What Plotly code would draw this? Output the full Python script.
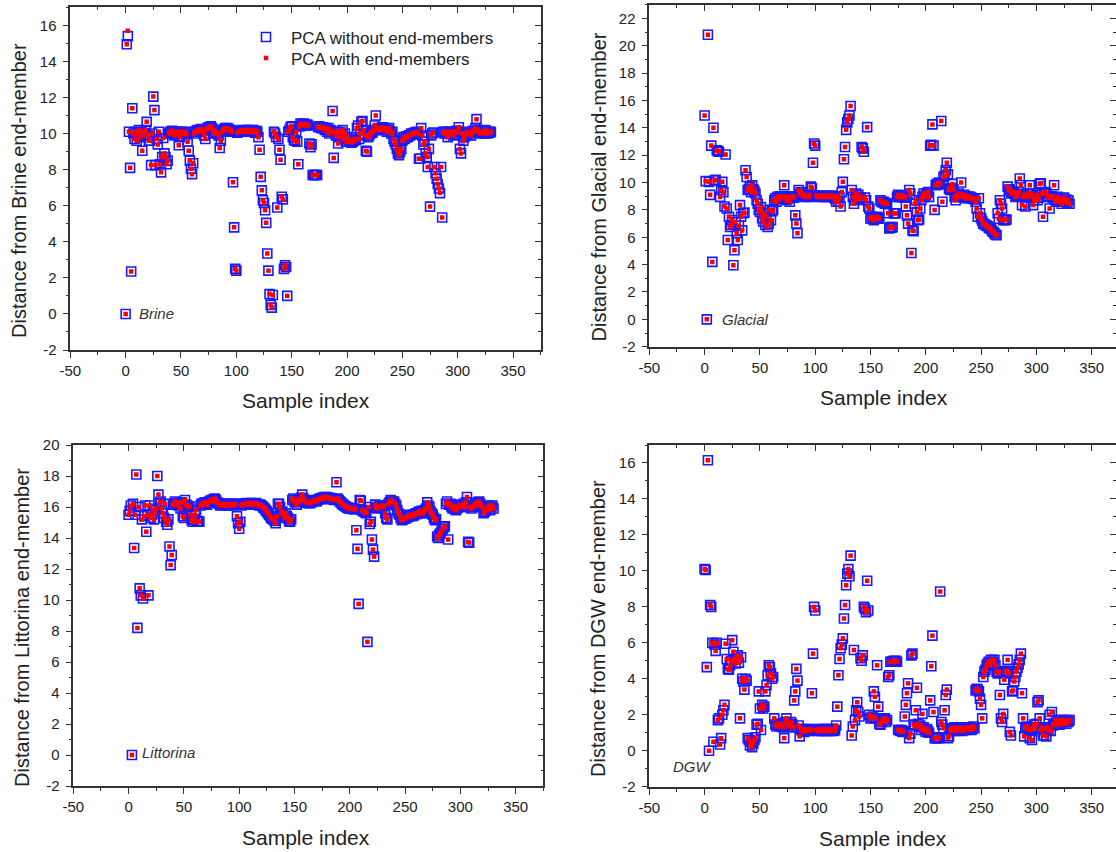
import plotly.graph_objects as go

# Distance of every sample (index 0..330) from each end-member, PCA without end-members
brine = [
    0.0, 14.95, 15.4, 10.1, 8.1, 2.35, 11.4, 10.0, 9.7, 10.1,
    9.6, 10.0, 10.2, 9.8, 10.1, 9.05, 9.9, 10.0, 10.2, 10.65,
    9.9, 9.6, 9.6, 8.25, 10.0, 12.05, 11.3, 8.25, 9.7, 9.4,
    10.1, 8.3, 7.85, 8.7, 9.75, 8.9, 8.7, 8.3, 8.5, 10.0,
    10.1, 10.0, 10.15, 10.05, 9.9, 10.1, 10.0, 10.1, 9.35, 9.8,
    10.0, 10.1, 10.05, 10.0, 10.1, 9.95, 9.55, 9.05, 8.5, 8.05,
    7.75, 8.35, 10.0, 10.1, 10.15, 10.2, 10.1, 10.2, 10.25, 10.15,
    10.2, 9.9, 9.7, 10.2, 10.3, 10.35, 10.3, 10.4, 10.3, 10.0,
    10.2, 10.1, 10.05, 10.0, 9.9, 9.2, 9.6, 10.1, 10.2, 10.25,
    10.3, 10.2, 10.3, 10.25, 10.15, 10.2, 10.1, 7.3, 4.8, 2.5,
    2.4, 10.05, 10.1, 10.15, 10.1, 10.2, 10.15, 10.1, 10.15, 10.2,
    10.1, 10.15, 10.2, 10.1, 10.15, 10.2, 10.1, 10.05, 10.15, 10.1,
    9.8, 9.1, 7.6, 6.85, 6.3, 6.15, 5.75, 5.05, 3.35, 2.4,
    1.1, 0.5, 0.35, 1.05, 10.1, 10.0, 9.8, 5.9, 9.7, 9.1,
    8.55, 6.5, 6.35, 2.5, 2.7, 2.6, 1.0, 10.1, 10.2, 10.35,
    10.4, 9.8, 9.65, 9.6, 10.1, 9.55, 8.3, 10.4, 10.55, 10.45,
    10.5, 10.55, 10.5, 10.45, 10.5, 10.45, 9.45, 9.25, 9.4, 7.7,
    7.7, 7.7, 7.7, 7.7, 10.35, 10.4, 10.35, 10.3, 10.35, 10.3,
    10.2, 10.3, 10.1, 10.3, 10.0, 10.2, 10.1, 11.25, 8.65, 10.1,
    9.9, 10.1, 9.45, 9.8, 10.1, 9.9, 10.2, 9.7, 10.0, 9.55,
    9.8, 9.7, 9.55, 9.6, 9.5, 9.55, 9.6, 9.7, 9.65, 10.3,
    10.45, 9.7, 10.0, 10.65, 10.7, 10.2, 9.9, 9.05, 9.0, 9.8,
    9.9, 10.0, 10.1, 10.05, 10.2, 10.45, 11.0, 10.2, 10.3, 10.25,
    10.2, 10.3, 10.35, 10.2, 10.3, 10.25, 10.1, 10.2, 10.3, 10.1,
    10.0, 10.1, 9.7, 9.55, 9.4, 9.15, 8.9, 8.8, 9.0, 9.15,
    9.6, 9.8, 9.7, 9.8, 9.85, 9.8, 9.9, 9.9, 10.0, 9.95,
    10.0, 10.05, 10.0, 10.1, 10.0, 8.6, 8.6, 10.3, 9.9, 9.4,
    9.55, 8.9, 8.7, 8.15, 9.15, 5.95, 9.9, 10.0, 10.05, 8.15,
    7.8, 7.5, 7.2, 6.95, 6.7, 8.15, 5.35, 10.1, 10.0, 10.1,
    10.0, 9.8, 10.1, 10.0, 10.05, 10.1, 9.9, 10.0, 10.1, 10.15,
    10.1, 10.35, 9.15, 8.9, 10.0, 9.6, 9.8, 9.9, 10.0, 10.1,
    10.0, 10.05, 9.9, 10.1, 10.15, 10.1, 10.3, 10.8, 10.2, 10.1,
    10.0, 10.1, 10.05, 10.1, 10.0, 10.2, 10.1, 10.0, 10.1, 10.05, 10.1,
]

glacial = [
    14.9, 10.1, 0.0, 20.8, 10.05, 9.1, 12.7, 4.2, 14.0, 10.15,
    10.2, 12.35, 12.3, 12.25, 8.95, 9.45, 10.05, 9.3, 8.25, 12.05,
    8.1, 5.8, 7.5, 6.75, 6.9, 7.25, 3.95, 5.05, 7.1, 6.3,
    5.8, 6.85, 8.35, 7.5, 6.5, 7.75, 7.8, 10.9, 10.4, 9.45,
    9.55, 9.7, 9.3, 9.8, 9.5, 9.4, 9.2, 8.7, 8.45, 8.0,
    7.85, 8.2, 7.4, 7.15, 7.75, 6.9, 7.5, 6.75, 7.0, 8.0,
    7.25, 7.9, 8.0, 8.7, 8.85, 8.6, 8.95, 8.8, 9.0, 8.9,
    8.95, 9.0, 9.8, 8.95, 8.7, 8.8, 8.95, 8.6, 8.9, 8.95,
    9.0, 8.9, 7.6, 7.0, 6.3, 9.45, 9.2, 9.3, 9.1, 9.0,
    9.1, 8.95, 9.05, 9.0, 8.95, 9.1, 9.7, 9.6, 11.45, 12.85,
    12.7, 9.05, 9.0, 8.95, 9.0, 9.05, 9.0, 8.95, 9.0, 9.0,
    8.95, 9.05, 9.0, 8.95, 9.0, 9.05, 8.95, 9.0, 8.8, 8.6,
    9.0, 8.6, 8.9, 8.25, 9.3, 10.05, 11.7, 12.6, 13.85, 14.4,
    14.65, 14.9, 15.6, 9.45, 8.95, 8.45, 8.7, 9.2, 8.95, 9.1,
    8.8, 8.9, 12.6, 12.5, 12.25, 8.9, 8.7, 14.05, 8.25, 8.1,
    7.35, 7.5, 7.45, 7.25, 7.35, 7.4, 7.5, 7.35, 7.4, 8.7,
    8.6, 8.55, 8.6, 8.45, 8.5, 8.45, 7.75, 6.65, 6.75, 6.7,
    6.75, 7.75, 7.75, 7.75, 8.95, 9.1, 8.95, 9.0, 8.95, 9.05,
    8.95, 8.9, 8.25, 7.6, 7.0, 9.45, 9.2, 4.85, 6.5, 6.45,
    8.45, 8.7, 7.85, 7.25, 7.3, 8.1, 8.7, 8.95, 9.2, 8.95,
    9.1, 9.2, 9.3, 8.95, 12.7, 12.75, 14.25, 12.7, 8.0, 9.8,
    9.9, 9.85, 10.0, 9.9, 14.5, 8.6, 10.4, 10.5, 10.9, 11.45,
    10.6, 9.55, 9.45, 9.6, 9.9, 9.5, 8.95, 8.7, 9.1, 8.95,
    9.2, 9.0, 10.0, 9.0, 8.95, 9.1, 8.85, 8.95, 9.0, 8.85,
    8.95, 8.9, 8.85, 8.8, 8.85, 8.6, 8.1, 7.5, 8.85, 7.75,
    7.4, 7.2, 7.0, 6.95, 6.9, 6.85, 6.8, 6.7, 6.65, 6.6,
    6.45, 6.4, 6.3, 6.2, 6.15, 7.75, 7.35, 8.7, 8.45, 8.1,
    7.25, 7.3, 7.25, 7.3, 9.7, 9.45, 9.5, 9.2, 9.3, 9.35,
    9.2, 8.95, 9.1, 9.0, 9.3, 10.3, 9.8, 8.35, 8.95, 9.1,
    8.25, 9.0, 8.95, 9.2, 9.8, 9.2, 9.0, 8.35, 8.7, 8.9,
    9.1, 8.7, 8.9, 9.9, 9.95, 9.2, 7.5, 9.2, 9.3, 9.25,
    8.95, 9.0, 8.1, 8.95, 9.0, 8.9, 9.8, 8.7, 8.6, 8.95,
    8.7, 8.8, 8.6, 8.45, 8.7, 8.9, 8.6, 8.75, 8.5, 8.7, 8.45,
]

littorina = [
    15.5, 15.75, 16.1, 0.0, 16.2, 13.35, 15.5, 18.1, 8.2, 16.0,
    10.75, 10.3, 15.2, 10.1, 15.4, 16.1, 14.4, 15.5, 10.3, 16.1,
    15.3, 15.5, 15.8, 15.2, 15.6, 15.9, 18.0, 16.8, 16.25, 16.35,
    15.9, 15.6, 15.3, 16.2, 15.05, 14.85, 15.2, 13.45, 12.25, 12.9,
    16.15, 16.2, 16.35, 16.25, 16.2, 16.1, 16.25, 15.9, 16.3, 15.4,
    15.3, 16.45, 16.15, 16.1, 16.0, 16.05, 15.5, 15.15, 15.05, 15.2,
    15.5, 15.8, 15.05, 15.1, 15.05, 16.1, 16.2, 16.15, 16.25, 16.3,
    16.2, 16.15, 16.3, 16.35, 16.4, 16.45, 16.35, 16.5, 16.55, 16.45,
    16.3, 16.25, 16.2, 16.1, 16.15, 16.2, 16.15, 16.1, 16.2, 16.15,
    16.2, 16.1, 16.15, 16.2, 16.1, 16.2, 16.15, 16.2, 15.4, 14.95,
    14.6, 15.05, 16.1, 16.2, 16.15, 16.2, 16.2, 16.25, 16.2, 16.15,
    16.2, 16.25, 16.2, 16.15, 16.2, 16.25, 16.2, 16.15, 16.1, 16.15,
    16.1, 16.05, 15.95, 15.9, 15.8, 15.7, 15.6, 15.5, 15.4, 15.3,
    15.25, 15.2, 15.1, 14.95, 15.4, 16.2, 16.2, 16.0, 15.6, 15.7,
    15.5, 15.3, 15.6, 15.4, 15.3, 15.1, 15.05, 15.2, 16.45, 16.55,
    16.35, 16.3, 16.15, 16.4, 16.5, 16.35, 16.6, 16.8, 16.55, 16.45,
    16.35, 16.3, 16.25, 16.3, 16.25, 16.3, 16.35, 16.4, 16.45, 16.4,
    16.35, 16.45, 16.5, 16.55, 16.5, 16.6, 16.55, 16.65, 16.6, 16.65,
    16.6, 16.55, 16.6, 16.5, 16.55, 16.5, 16.45, 16.5, 17.6, 16.55,
    16.45, 16.35, 16.3, 16.2, 16.15, 16.1, 16.05, 16.0, 15.95, 15.9,
    15.9, 15.95, 15.9, 15.85, 15.9, 15.85, 14.5, 13.3, 9.75, 16.45,
    16.4, 15.8, 15.75, 15.7, 15.65, 15.6, 7.3, 16.0, 14.9, 15.05,
    13.9, 13.25, 12.8, 16.15, 15.95, 15.9, 16.0, 16.05, 16.0, 16.1,
    16.1, 16.05, 15.6, 15.3, 15.2, 16.2, 16.3, 16.45, 16.35, 16.3,
    16.35, 16.2, 16.1, 15.8, 15.6, 15.5, 15.3, 15.15, 15.2, 15.3,
    15.25, 15.3, 15.4, 15.35, 15.5, 15.45, 15.4, 15.5, 15.45, 15.55,
    15.6, 15.55, 15.65, 15.7, 15.6, 15.75, 15.6, 15.7, 15.8, 15.9,
    16.3, 16.1, 16.0, 15.7, 15.6, 15.5, 15.3, 15.15, 15.2, 14.1,
    14.0, 14.2, 14.3, 14.45, 14.6, 14.7, 14.75, 16.2, 16.35, 13.9,
    16.15, 16.2, 16.0, 15.9, 16.05, 15.85, 15.8, 15.9, 16.0, 16.1,
    16.15, 16.0, 16.1, 16.2, 16.0, 16.3, 16.65, 13.75, 13.7, 16.0,
    15.9, 16.0, 16.1, 16.05, 16.25, 16.15, 16.3, 16.35, 16.2, 16.0,
    16.0, 15.6, 15.7, 15.8, 15.9, 16.0, 16.1, 15.8, 16.0, 16.1, 15.9,
]

dgw = [
    10.1, 10.05, 4.65, 16.15, 0.0, 8.1, 8.0, 6.0, 0.5, 5.9,
    5.55, 6.0, 1.7, 1.8, 0.35, 0.7, 2.0, 2.25, 2.55, 5.95,
    5.1, 4.55, 4.5, 4.75, 5.0, 6.15, 5.5, 5.1, 4.85, 5.1,
    5.3, 4.9, 1.8, 5.2, 4.0, 3.85, 3.4, 4.0, 3.9, 0.7,
    0.6, 0.3, 0.5, 0.2, 0.4, 0.6, 0.75, 1.45, 1.5, 3.3,
    2.35, 1.15, 2.55, 2.35, 2.45, 3.3, 3.65, 4.2, 4.75, 4.65,
    4.3, 4.0, 4.1, 1.8, 1.45, 1.35, 1.5, 1.4, 1.5, 1.35,
    1.4, 1.3, 0.7, 1.6, 1.8, 1.5, 1.35, 1.45, 1.6, 1.5,
    1.3, 2.8, 3.3, 4.55, 3.9, 1.4, 0.8, 1.2, 1.1, 1.15,
    1.05, 1.1, 1.2, 1.15, 1.1, 1.2, 1.15, 3.2, 5.4, 8.0,
    7.8, 1.15, 1.1, 1.2, 1.15, 1.1, 1.2, 1.15, 1.1, 1.15,
    1.2, 1.1, 1.15, 1.2, 1.1, 1.15, 1.2, 1.1, 1.15, 1.4,
    2.45, 4.2, 5.1, 5.7, 5.9, 6.25, 7.35, 8.1, 9.2, 9.85,
    10.1, 9.7, 10.85, 0.85, 1.35, 5.6, 1.7, 2.25, 2.7, 2.15,
    1.9, 5.15, 5.0, 5.3, 8.0, 7.9, 7.7, 9.45, 7.8, 2.0,
    1.8, 1.85, 1.9, 3.3, 3.0, 1.8, 4.75, 2.45, 1.5, 1.45,
    1.6, 1.7, 1.75, 1.8, 1.6, 1.7, 4.1, 4.2, 4.95, 4.95,
    4.95, 5.0, 4.95, 5.0, 4.95, 1.15, 1.15, 1.1, 1.15, 1.05,
    1.1, 1.9, 2.55, 3.2, 3.75, 0.7, 0.95, 5.3, 5.4, 1.45,
    1.35, 2.25, 3.5, 1.5, 1.35, 1.4, 1.15, 2.05, 1.3, 1.15,
    1.05, 1.2, 1.1, 1.0, 2.8, 4.7, 6.4, 2.15, 0.7, 0.7,
    0.7, 0.75, 0.7, 8.85, 1.6, 1.45, 1.25, 2.25, 3.1, 3.4,
    0.7, 0.8, 1.2, 1.1, 1.25, 1.15, 1.3, 1.1, 1.2, 1.25,
    1.15, 1.3, 1.2, 1.1, 1.25, 1.2, 1.15, 1.3, 1.2, 1.25,
    1.3, 1.15, 1.2, 1.35, 1.25, 3.35, 3.45, 3.4, 3.3, 2.9,
    2.55, 1.8, 4.1, 4.4, 4.5, 4.75, 4.85, 4.95, 4.75, 5.05,
    4.9, 4.95, 5.05, 4.75, 4.4, 4.3, 4.4, 3.1, 1.8, 1.6,
    2.05, 3.95, 4.4, 4.45, 5.05, 4.3, 1.05, 0.85, 3.3, 3.35,
    3.85, 4.1, 4.4, 4.6, 4.8, 5.05, 5.4, 3.2, 1.8, 0.8,
    1.25, 1.35, 1.3, 1.2, 0.7, 1.15, 0.6, 1.3, 1.45, 1.25,
    1.5, 2.7, 2.8, 1.8, 1.15, 1.3, 0.85, 0.85, 1.2, 0.8,
    1.3, 1.15, 2.0, 1.1, 2.15, 1.4, 1.5, 1.45, 1.7, 1.5,
    1.6, 1.45, 1.7, 1.6, 1.5, 1.7, 1.65, 1.5, 1.7, 1.6, 1.7,
]

# PCA with end-members: same samples, one visible departure in the Brine panel
brine_with = list(brine)
brine_with[2] = 15.7
glacial_with = list(glacial)
littorina_with = list(littorina)
dgw_with = list(dgw)

x_tick_vals = [-50, 0, 50, 100, 150, 200, 250, 300, 350]

W, H = 1116, 852
FONT = "Arial, Liberation Sans, sans-serif"
AXIS_COLOR = "#333333"
TEXT_COLOR = "#222222"


def fx(p):
    return p / W


def fy(p):
    return 1 - p / H


panels = [
    dict(name="Brine", blue=brine, red=brine_with, ymax_tick=16, yrange=[-2, 17],
         box=(70.3, 540.7, 7.3, 350.0), xrange=[-50, 375], right_line=True,
         ytitle=(19, 191), xtitle=(306, 400), label=(10.5, 0.0)),
    dict(name="Glacial", blue=glacial, red=glacial_with, ymax_tick=22, yrange=[-2, 23],
         box=(649.3, 1116.0, 4.7, 346.7), xrange=[-50, 372], right_line=False,
         ytitle=(598.5, 187), xtitle=(884, 397), label=(13.5, 0.0)),
    dict(name="Littorina", blue=littorina, red=littorina_with, ymax_tick=20, yrange=[-2, 20],
         box=(73.3, 543.3, 445.0, 786.0), xrange=[-50, 375], right_line=True,
         ytitle=(22, 628), xtitle=(306, 837), label=(10.5, 0.15)),
    dict(name="DGW", blue=dgw, red=dgw_with, ymax_tick=16, yrange=[-2, 17],
         box=(649.3, 1116.0, 445.0, 786.7), xrange=[-50, 372], right_line=False,
         ytitle=(598, 629), xtitle=(883, 838), label=(-30, -0.9)),
]

legend_style = dict(xanchor="left", yanchor="top", bgcolor="rgba(0,0,0,0)",
                    font=dict(size=17, color=TEXT_COLOR, family=FONT),
                    itemwidth=40, borderwidth=0)

fig = go.Figure()
layout = dict(
    template="none",
    width=W, height=H,
    margin=dict(l=0, r=0, t=0, b=0, pad=0, autoexpand=False),
    paper_bgcolor="white", plot_bgcolor="white",
    font=dict(family=FONT, color=TEXT_COLOR, size=15),
    showlegend=True,
    legend=dict(legend_style, x=fx(241), y=fy(19.5)),
    legend2=dict(legend_style, x=fx(241), y=fy(40.5)),
    annotations=[],
)

axis_common = dict(showgrid=False, zeroline=False, linecolor=AXIS_COLOR, linewidth=1.6,
                   tickcolor=AXIS_COLOR, tickwidth=1.3, ticklen=6, fixedrange=True,
                   automargin=False)

for i, p in enumerate(panels, start=1):
    n = len(p["blue"])
    idx = list(range(n))
    xa = "x" if i == 1 else f"x{i}"
    ya = "y" if i == 1 else f"y{i}"
    xtop = f"x{i + 4}"
    yright = f"y{i + 4}"
    x0, x1, ytop, ybot = p["box"]
    xdom = [fx(x0), min(fx(x1), 1.0)]
    ydom = [fy(ybot), fy(ytop)]
    y_tick_vals = list(range(-2, p["ymax_tick"] + 1, 2))

    fig.add_trace(go.Scatter(
        x=idx, y=p["blue"], mode="markers", xaxis=xa, yaxis=ya,
        name="PCA without end-members", showlegend=(i == 1), legend="legend",
        marker=dict(symbol="square-open", size=9, color="#1a1aff",
                    line=dict(width=1.6, color="#1a1aff")),
        hoverinfo="skip"))
    fig.add_trace(go.Scatter(
        x=idx, y=p["red"], mode="markers", xaxis=xa, yaxis=ya,
        name="PCA with end-members", showlegend=(i == 1), legend="legend2",
        marker=dict(symbol="square", size=4.5, color="#ff0000", line=dict(width=0)),
        hoverinfo="skip"))
    # empty traces so the top and right tick axes get their own subplots
    fig.add_trace(go.Scatter(x=[], y=[], xaxis=xtop, yaxis=ya, showlegend=False, hoverinfo="skip"))
    fig.add_trace(go.Scatter(x=[], y=[], xaxis=xa, yaxis=yright, showlegend=False, hoverinfo="skip"))

    xkey = "xaxis" if i == 1 else f"xaxis{i}"
    ykey = "yaxis" if i == 1 else f"yaxis{i}"
    layout[xkey] = dict(
        axis_common, domain=xdom, range=p["xrange"], anchor=ya, side="bottom",
        showline=True, ticks="outside",
        tickmode="array", tickvals=x_tick_vals, ticktext=[str(v) for v in x_tick_vals],
        tickfont=dict(size=15, color=TEXT_COLOR, family=FONT),
        minor=dict(tickmode="linear", tick0=0, dtick=25, ticklen=3, ticks="outside",
                   tickcolor=AXIS_COLOR, tickwidth=1.2))
    layout[ykey] = dict(
        axis_common, domain=ydom, range=p["yrange"], anchor=xa, side="left",
        showline=True, ticks="outside", ticklabelstandoff=3,
        tickmode="array", tickvals=y_tick_vals, ticktext=[str(v) for v in y_tick_vals],
        tickfont=dict(size=15, color=TEXT_COLOR, family=FONT),
        minor=dict(tickmode="linear", tick0=0, dtick=1, ticklen=3, ticks="outside",
                   tickcolor=AXIS_COLOR, tickwidth=1.2))
    layout[f"xaxis{i + 4}"] = dict(
        axis_common, domain=xdom, range=p["xrange"], anchor=ya, overlaying=xa, side="top",
        showline=True, ticks="inside", showticklabels=False,
        tickmode="array", tickvals=x_tick_vals,
        minor=dict(tickmode="linear", tick0=0, dtick=25, ticklen=3, ticks="inside",
                   tickcolor=AXIS_COLOR, tickwidth=1.2))
    layout[f"yaxis{i + 4}"] = dict(
        axis_common, domain=ydom, range=p["yrange"], anchor=xa, overlaying=ya, side="right",
        showline=p["right_line"], ticks="inside", showticklabels=False,
        tickmode="array", tickvals=y_tick_vals,
        minor=dict(tickmode="linear", tick0=0, dtick=1, ticklen=3, ticks="inside",
                   tickcolor=AXIS_COLOR, tickwidth=1.2))

    tx, ty = p["ytitle"]
    layout["annotations"].append(dict(
        x=fx(tx), y=fy(ty), xref="paper", yref="paper", showarrow=False,
        text=f"Distance from {p['name']} end-member", textangle=-90,
        font=dict(size=20, color=TEXT_COLOR, family=FONT), xanchor="center", yanchor="middle"))
    sx, sy = p["xtitle"]
    layout["annotations"].append(dict(
        x=fx(sx), y=fy(sy), xref="paper", yref="paper", showarrow=False,
        text="Sample index", font=dict(size=21, color=TEXT_COLOR, family=FONT),
        xanchor="center", yanchor="middle"))
    lx, ly = p["label"]
    layout["annotations"].append(dict(
        x=lx, y=ly, xref=xa, yref=ya, showarrow=False,
        text=f"<i>{p['name']}</i>", font=dict(size=15, color="#333333", family=FONT),
        xanchor="left", yanchor="middle"))

fig.update_layout(**layout)
fig.write_html("out.html")
